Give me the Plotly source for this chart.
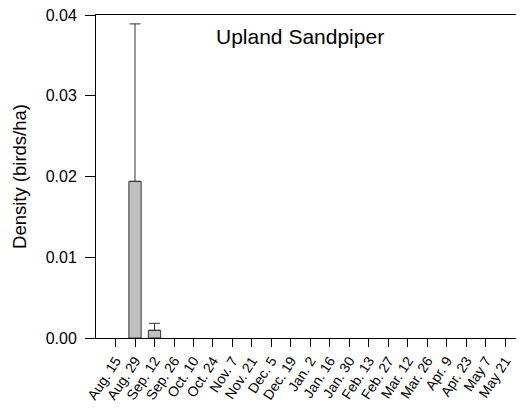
import plotly.graph_objects as go

categories = ["Aug. 15", "Aug. 29", "Sep. 12", "Sep. 26", "Oct. 10", "Oct. 24", "Nov. 7",
              "Nov. 21", "Dec. 5", "Dec. 19", "Jan. 2", "Jan. 16", "Jan. 30", "Feb. 13",
              "Feb. 27", "Mar. 12", "Mar. 26", "Apr. 9", "Apr. 23", "May 7", "May 21"]
density = [0, 0.0194, 0.00095, 0, 0, 0, 0, 0, 0, 0, 0, 0, 0, 0, 0, 0, 0, 0, 0, 0, 0]
err_up = [0, 0.0195, 0.00087, 0, 0, 0, 0, 0, 0, 0, 0, 0, 0, 0, 0, 0, 0, 0, 0, 0, 0]
yticks = [0.0, 0.01, 0.02, 0.03, 0.04]

xpos = list(range(len(categories)))
# only draw non-zero bars (zero-height bars are invisible in the reference)
y_plot = [v if v > 0 else None for v in density]
err_arr = [e if e > 0 else None for e in err_up]

fig = go.Figure()
fig.add_trace(go.Bar(
    x=xpos, y=y_plot, width=0.63,
    marker=dict(color="#c0c0c0", line=dict(color="#333333", width=1)),
    error_y=dict(type="data", symmetric=False, array=err_arr, arrayminus=[0]*len(err_up),
                 color="#333333", thickness=1, width=5.5, visible=True),
))

# page body has an 8px margin: compensate so the figure lands like the reference
fig.update_layout(
    width=516, height=400,
    margin=dict(l=88, r=0, t=7, b=70),
    plot_bgcolor="white", paper_bgcolor="white",
    showlegend=False,
    font=dict(family="Liberation Sans, Arial, sans-serif", color="black"),
    annotations=[dict(text="Upland Sandpiper", x=0.477, y=0.932, xref="paper", yref="paper",
                      xanchor="center", yanchor="middle",
                      showarrow=False, font=dict(size=21, color="black"))],
)
fig.update_xaxes(
    range=[-1, 20.95], tickmode="array", tickvals=xpos, ticktext=categories,
    tickangle=-57, ticks="outside", ticklen=8, tickcolor="black", tickwidth=1,
    showline=True, linecolor="black", linewidth=1, mirror=True, automargin=False,
    showgrid=False, zeroline=False, tickfont=dict(size=14), ticklabeloverflow="allow",
)
fig.update_yaxes(
    range=[0, 0.04], tickmode="array", tickvals=yticks,
    ticktext=["0.00", "0.01", "0.02", "0.03", "0.04"],
    ticks="outside", ticklen=10, tickcolor="black", tickwidth=1, ticklabelstandoff=5,
    showline=True, linecolor="black", linewidth=1, automargin=False,
    showgrid=False, zeroline=False, tickfont=dict(size=16), ticklabeloverflow="allow",
    title=dict(text="Density (birds/ha)", font=dict(size=18.5), standoff=14),
)

fig.write_html("out.html")
